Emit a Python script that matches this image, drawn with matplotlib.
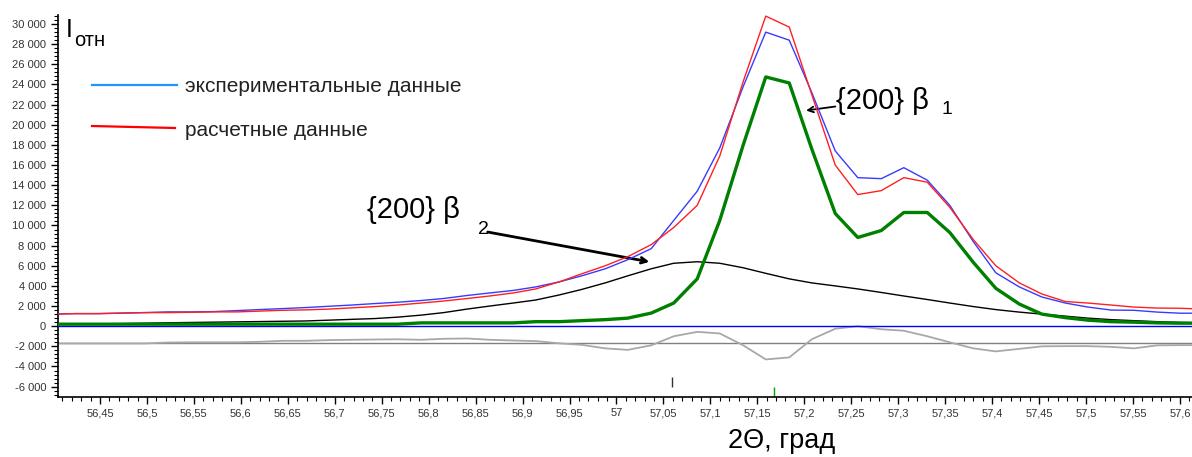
import matplotlib
matplotlib.use("Agg")
import matplotlib.pyplot as plt
from matplotlib.lines import Line2D
from matplotlib.ticker import FuncFormatter, MultipleLocator

plt.rcParams["font.family"] = ["Liberation Sans", "DejaVu Sans"]

# 2Θ, град
two_theta = [56.400, 56.424, 56.449, 56.473, 56.498, 56.522, 56.547, 56.571, 56.596, 56.620,
             56.645, 56.669, 56.694, 56.718, 56.743, 56.767, 56.792, 56.816, 56.841, 56.865,
             56.890, 56.914, 56.939, 56.963, 56.988, 57.012, 57.037, 57.061, 57.086, 57.110,
             57.135, 57.159, 57.184, 57.208, 57.233, 57.257, 57.282, 57.306, 57.331, 57.355,
             57.380, 57.404, 57.429, 57.453, 57.478, 57.502, 57.527, 57.551, 57.576, 57.600,
             57.625]

# экспериментальные данные
exp_int = [1200, 1250, 1250, 1300, 1350, 1420, 1420, 1450, 1550, 1650,
           1750, 1850, 1980, 2100, 2250, 2380, 2550, 2750, 3050, 3300,
           3550, 3900, 4400, 5000, 5700, 6600, 7700, 10500, 13400, 17700,
           23800, 29200, 28400, 23200, 17400, 14750, 14650, 15740, 14500, 12000,
           8400, 5300, 3900, 2900, 2300, 1900, 1600, 1580, 1400, 1290,
           1290]

# расчетные данные
calc_int = [1200, 1250, 1250, 1300, 1350, 1350, 1380, 1420, 1420, 1500,
            1580, 1620, 1700, 1820, 1950, 2100, 2300, 2500, 2750, 3000,
            3300, 3700, 4400, 5200, 6000, 6900, 8100, 9800, 12000, 16900,
            24300, 30790, 29700, 23000, 16000, 13070, 13460, 14750, 14300, 11800,
            8600, 6000, 4300, 3200, 2450, 2300, 2100, 1900, 1800, 1780,
            1700]

# {200} beta1 component
beta1 = [200, 200, 200, 200, 200, 200, 200, 200, 200, 200,
         200, 200, 200, 200, 200, 200, 330, 330, 330, 330,
         330, 450, 450, 550, 650, 800, 1300, 2300, 4700, 10500,
         18000, 24750, 24150, 17600, 11190, 8810, 9500, 11290, 11290, 9300,
         6340, 3760, 2200, 1200, 850, 600, 450, 400, 330, 300,
         300]

# {200} beta2 component
beta2 = [200, 220, 240, 260, 300, 340, 370, 400, 430, 460,
         490, 520, 600, 680, 760, 900, 1100, 1350, 1700, 2000,
         2300, 2600, 3100, 3650, 4300, 5000, 5700, 6250, 6400, 6250,
         5800, 5250, 4700, 4300, 4000, 3700, 3350, 3000, 2650, 2300,
         1950, 1650, 1400, 1200, 1000, 800, 650, 550, 450, 380,
         330]

# разностная кривая
diff_curve = [-1710, -1710, -1710, -1710, -1710, -1620, -1600, -1600, -1600, -1550,
              -1450, -1450, -1380, -1350, -1320, -1300, -1350, -1250, -1220, -1350,
              -1420, -1480, -1700, -1850, -2200, -2350, -1900, -1000, -560, -720,
              -1900, -3300, -3100, -1300, -250, 0, -300, -450, -1000, -1600,
              -2200, -2500, -2250, -2000, -1980, -1980, -2050, -2200, -1900, -1880,
              -1880]
diff_base = -1710

# положения рефлексов
peak_beta2 = 57.059
peak_beta1 = 57.168

fig = plt.figure(figsize=(11.92, 4.57), dpi=100)
W, H = 1192, 457
ax = fig.add_axes([58 / W, 60 / H, 1 - 58 / W, 382 / H])

ax.axhline(0, color="#0000ff", lw=1.0, zorder=3)
ax.axhline(diff_base, color="#808080", lw=1.0, zorder=2)
ax.plot(two_theta, diff_curve, color="#a8a8a8", lw=1.3, zorder=2)
ax.plot(two_theta, beta2, color="black", lw=1.0, zorder=4)
ax.plot(two_theta, beta1, color="#008000", lw=2.4, zorder=4)
ax.plot(two_theta, exp_int, color="#3a3aff", lw=1.0, zorder=5)
ax.plot(two_theta, calc_int, color="#ff2020", lw=1.0, zorder=6)

ax.vlines(peak_beta2, -6050, -5050, color="#333333", lw=1.0)
ax.vlines(peak_beta1, -7030, -6050, color="#00a000", lw=1.0)

ax.set_xlim(56.4053, 57.6129)
ax.set_ylim(-7030, 30900)

for s in ("top", "right"):
    ax.spines[s].set_visible(False)
ax.spines["left"].set_linewidth(1.2)
ax.spines["bottom"].set_linewidth(1.2)

ax.xaxis.set_major_locator(MultipleLocator(0.05))
ax.xaxis.set_minor_locator(MultipleLocator(0.01))
ax.yaxis.set_major_locator(MultipleLocator(2000))
ax.yaxis.set_minor_locator(MultipleLocator(400))
ax.xaxis.set_major_formatter(FuncFormatter(lambda v, p: f"{v:.2f}".rstrip("0").rstrip(".").replace(".", ",")))
ax.yaxis.set_major_formatter(FuncFormatter(lambda v, p: f"{int(round(v)):,}".replace(",", " ")))
ax.tick_params(axis="both", which="major", length=5, width=1, labelsize=8, labelcolor="#333333")
ax.tick_params(axis="both", which="minor", length=3, width=0.8)
for lab in ax.get_xticklabels():
    lab.set_va("baseline")
ax.tick_params(axis="x", pad=9)

# подпись оси
fig.text(728 / W, 1 - 441 / H, "2Θ, град", fontsize=19.5, va="center", ha="left")

# подписи пиков
ax.text(57.234, 22400, "{200} β", fontsize=21, va="center", ha="left")
ax.text(57.346, 21500, "1", fontsize=14, va="center", ha="left")
ax.annotate("", xy=(57.199, 21380), xytext=(57.236, 21850),
            arrowprops=dict(arrowstyle="->", lw=1.3, color="black"))

ax.text(56.734, 11500, "{200} β", fontsize=21, va="center", ha="left")
ax.text(56.853, 9600, "2", fontsize=14, va="center", ha="left")
ax.annotate("", xy=(57.038, 6340), xytext=(56.860, 9400),
            arrowprops=dict(arrowstyle="->", lw=2.0, color="black"))

# I отн
fig.text(66 / W, 1 - 30 / H, "I", fontsize=18, va="center", ha="left")
fig.text(74 / W, 1 - 40 / H, "отн", fontsize=14.5, va="center", ha="left")

# легенда
fig.add_artist(Line2D([92 / W, 177 / W], [1 - 85 / H, 1 - 85 / H], color="#1e96ff", lw=1.6))
fig.text(185 / W, 1 - 86 / H, "экспериментальные данные", fontsize=15, va="center", ha="left", color="#222222")
fig.add_artist(Line2D([92 / W, 175 / W], [1 - 126 / H, 1 - 128 / H], color="#ff0000", lw=1.6))
fig.text(185 / W, 1 - 131 / H, "расчетные данные", fontsize=15, va="center", ha="left", color="#222222")

fig.savefig("out.png", dpi=100)
